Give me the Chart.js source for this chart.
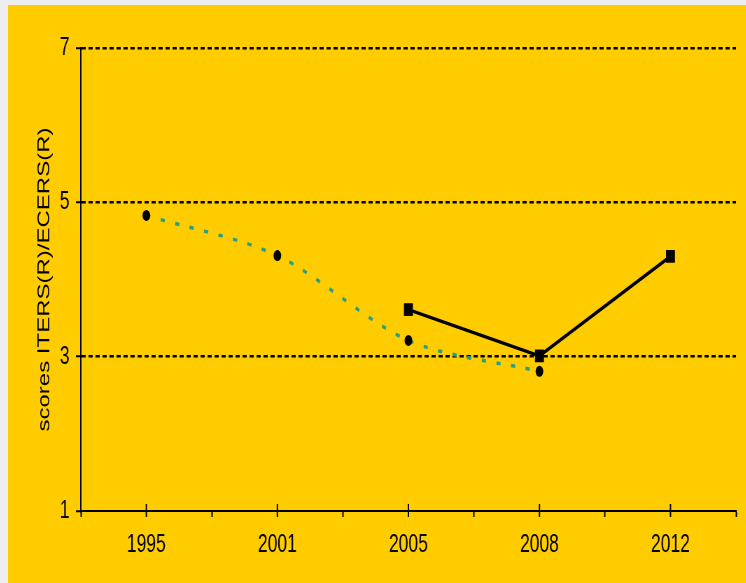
<!DOCTYPE html>
<html>
<head>
<meta charset="utf-8">
<script src="https://cdn.jsdelivr.net/npm/chart.js@4/dist/chart.umd.min.js"></script>
<style>
  html, body { margin: 0; padding: 0; background: #eeeeee; overflow: hidden; }
  #frame {
    position: absolute; left: 8px; top: 5px;
    width: 738px; height: 578px;
    background: #ffcc00; overflow: hidden;
  }
  /* the chart is laid out wide and then narrowed on screen */
  #scoresChart { transform: scaleX(0.7); transform-origin: 0 0; display: block; }
</style>
</head>
<body>
<div id="frame">
  <canvas id="scoresChart" width="1054" height="578"></canvas>
</div>
<script>
const years = ["1995", "2001", "2005", "2008", "2012"];
const scoresOld = [4.83, 4.31, 3.21, 2.81, null];
const scoresNew = [null, null, 3.61, 3.01, 4.30];
const yTicks = [1, 3, 5, 7];

const FONT = "'Liberation Sans', Arial, sans-serif";

// tick marks centred on each year, crossing the x axis
const centerTicks = {
  id: "centerTicks",
  afterDraw(chart) {
    const xs = chart.scales.x;
    const ctx = chart.ctx;
    ctx.save();
    ctx.strokeStyle = "#000";
    ctx.lineWidth = 2;
    years.forEach((y, i) => {
      const px = xs.getPixelForValue(i);
      ctx.beginPath();
      ctx.moveTo(px, xs.top - 7);
      ctx.lineTo(px, xs.top + 6);
      ctx.stroke();
    });
    ctx.restore();
  }
};

const ctx = document.getElementById("scoresChart").getContext("2d");
const chart = new Chart(ctx, {
  type: "line",
  data: {
    labels: years,
    datasets: [
      {
        label: "old",
        data: scoresOld,
        borderColor: "#25a083",
        borderWidth: 3.5,
        borderDash: [6, 15],
        tension: 0.3,
        pointRadius: 5.5,
        pointStyle: "circle",
        pointBackgroundColor: "#000",
        pointBorderColor: "#000",
        pointBorderWidth: 0
      },
      {
        label: "new",
        data: scoresNew,
        borderColor: "#000",
        borderWidth: 3.5,
        tension: 0,
        pointRadius: 9,
        pointStyle: "rect",
        pointBackgroundColor: "#000",
        pointBorderColor: "#000",
        pointBorderWidth: 0
      }
    ]
  },
  options: {
    responsive: false,
    animation: false,
    layout: { padding: { left: 0, top: 43, right: 14, bottom: 0 } },
    plugins: {
      legend: { display: false },
      tooltip: { enabled: false }
    },
    scales: {
      x: {
        type: "category",
        offset: true,
        grid: {
          offset: true,
          drawOnChartArea: false,
          color: "#000",
          tickColor: "#000",
          tickLength: 6,
          tickWidth: 2
        },
        border: { display: true, color: "#000", width: 2 },
        ticks: {
          color: "#000",
          padding: 13,
          font: { family: FONT, size: 25 }
        },
        afterFit(scale) { scale.height = 72; }
      },
      y: {
        min: 1,
        max: 7,
        afterBuildTicks(scale) { scale.ticks = yTicks.map(v => ({ value: v })); },
        grid: {
          color: c => (c.tick && c.tick.value === 1 ? "rgba(0,0,0,0)" : "#000"),
          lineWidth: 2.5,
          tickColor: "#000",
          tickWidth: 2,
          tickLength: 7,
          tickBorderDash: []
        },
        border: { display: true, color: "#000", width: 2, dash: [6, 4] },
        ticks: {
          color: "#000",
          padding: 9,
          font: { family: FONT, size: 25 }
        },
        title: {
          display: true,
          text: "scores ITERS(R)/ECERS(R)",
          color: "#000",
          font: { family: FONT, size: 24 },
          padding: { top: 38, bottom: 0 }
        },
        afterFit(scale) { scale.width = 104; }
      }
    }
  },
  plugins: [centerTicks]
});
</script>
</body>
</html>
